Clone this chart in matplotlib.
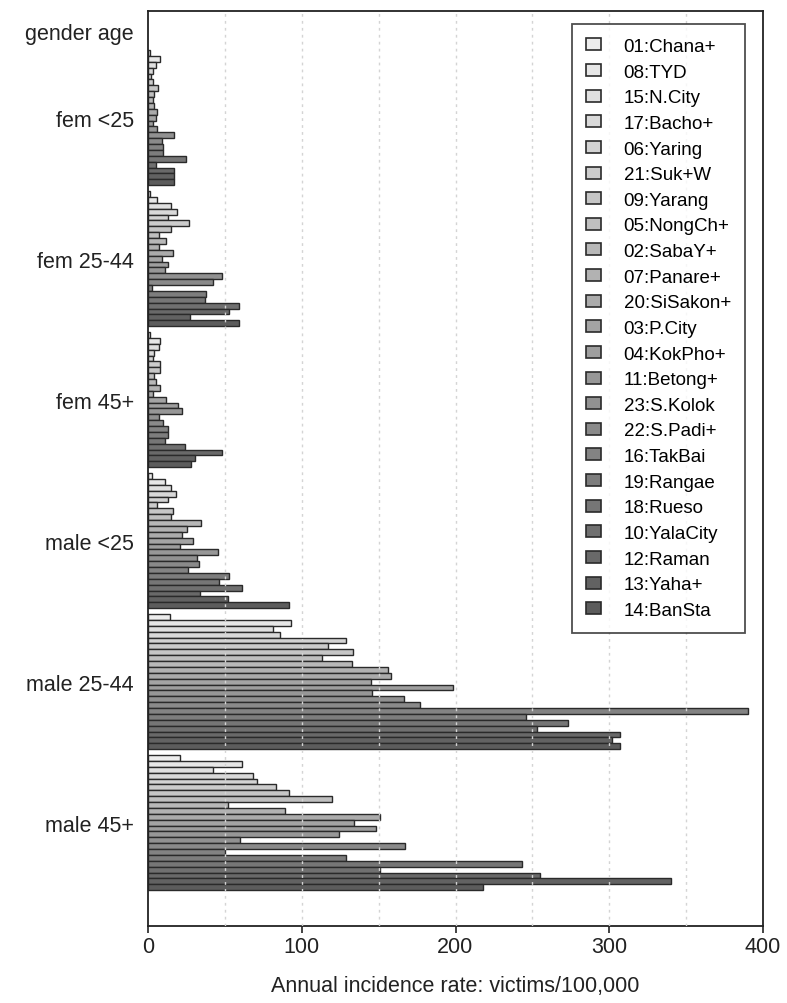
import numpy as np
import matplotlib
matplotlib.use("Agg")
import matplotlib.pyplot as plt
from matplotlib.patches import Patch

plt.rcParams['font.family'] = ['Liberation Sans', 'DejaVu Sans']

districts = ["01:Chana+", "08:TYD", "15:N.City", "17:Bacho+", "06:Yaring", "21:Suk+W",
             "09:Yarang", "05:NongCh+", "02:SabaY+", "07:Panare+", "20:SiSakon+", "03:P.City",
             "04:KokPho+", "11:Betong+", "23:S.Kolok", "22:S.Padi+", "16:TakBai", "19:Rangae",
             "18:Rueso", "10:YalaCity", "12:Raman", "13:Yaha+", "14:BanSta"]

groups = ["fem <25", "fem 25-44", "fem 45+", "male <25", "male 25-44", "male 45+"]

fem_lt25 = [1, 8, 5, 3.5, 2, 3, 6.5, 4, 3, 4, 6, 5, 3, 6, 17, 9, 10, 10, 25, 5.5, 17, 17, 17]
fem_25_44 = [1.5, 5.6, 15, 18.7, 13, 26.7, 15, 7, 11.5, 7, 16.5, 9, 13, 11, 48, 42.5, 2.4,
             38, 37, 59, 53, 27, 59]
fem_45p = [1, 8, 7, 4, 3, 8, 8, 4, 5.5, 8, 3, 11.5, 19.6, 22, 7, 9.5, 13, 13, 11, 24, 48,
           30.6, 28]
male_lt25 = [2.4, 11, 15, 18, 13, 5.6, 16, 15, 34.5, 25.6, 22, 29.5, 21, 45.7, 31.7, 33.4,
             26, 53, 46.4, 61, 34, 52, 92]
male_25_44 = [14, 93, 81, 86, 129, 117, 133.5, 113, 132.5, 156, 158, 145, 198.5, 146, 166.5,
              177, 390, 246, 273, 253, 307, 302, 307]
male_45p = [21, 61, 42.5, 68, 70.7, 83, 91.5, 119.4, 52, 89, 151, 134, 148, 124.5, 60, 167,
            50, 129, 243, 151, 255, 340, 218]

values = [fem_lt25, fem_25_44, fem_45p, male_lt25, male_25_44, male_45p]

xticks = [0, 100, 200, 300, 400]
xgrid = [50, 100, 150, 200, 250, 300, 350]

fig = plt.figure(figsize=(7.87, 10.04), dpi=100)
ax = fig.add_axes([148 / 787, 1 - 927 / 1004, (763 - 148) / 787, (927 - 11.7) / 1004])

n = len(districts)
slot = n + 1
shades = np.linspace(0.93, 0.36, n)
colors = [(s, s, s) for s in shades]

for g, vals in enumerate(values):
    pos = g * slot + np.arange(n)
    ax.barh(pos, vals, height=1.0, color=colors, edgecolor='#2a2a2a', linewidth=1.0, zorder=2)

ax.set_xlim(0, 400)
ax.set_ylim(148.6, -7.19)

ytick_pos = [-3.73] + [g * slot + (n - 1) / 2 for g in range(len(groups))]
ax.set_yticks(ytick_pos)
ax.set_yticklabels(["gender age"] + groups, fontsize=15.5, color='#222222')
ax.tick_params(axis='y', length=0, pad=10)

ax.set_xticks(xticks)
ax.set_xticklabels([str(t) for t in xticks], fontsize=15.5, color='#222222')
ax.tick_params(axis='x', length=5, width=1.2, direction='out', pad=2, color='#222222')

for xg in xgrid:
    ax.axvline(xg, color='#d4d4d4', linestyle=(0, (2, 3)), linewidth=1.0, zorder=3)

for sp in ax.spines.values():
    sp.set_linewidth(1.3)
    sp.set_color('#222222')

ax.set_xlabel("Annual incidence rate: victims/100,000", fontsize=15.5, color='#222222', labelpad=13)

handles = [Patch(facecolor=c, edgecolor='#2a2a2a', linewidth=1.2) for c in colors]
leg = ax.legend(handles, districts, loc='upper right', bbox_to_anchor=(0.9707, 0.9855),
                fontsize=13.5, frameon=True, fancybox=False, edgecolor='#222222',
                handlelength=0.8, handleheight=0.6, handletextpad=1.2,
                labelspacing=0.46, borderpad=0.75, borderaxespad=0)
leg.get_frame().set_linewidth(1.3)
leg.set_zorder(5)

fig.savefig("out.png", dpi=100)
